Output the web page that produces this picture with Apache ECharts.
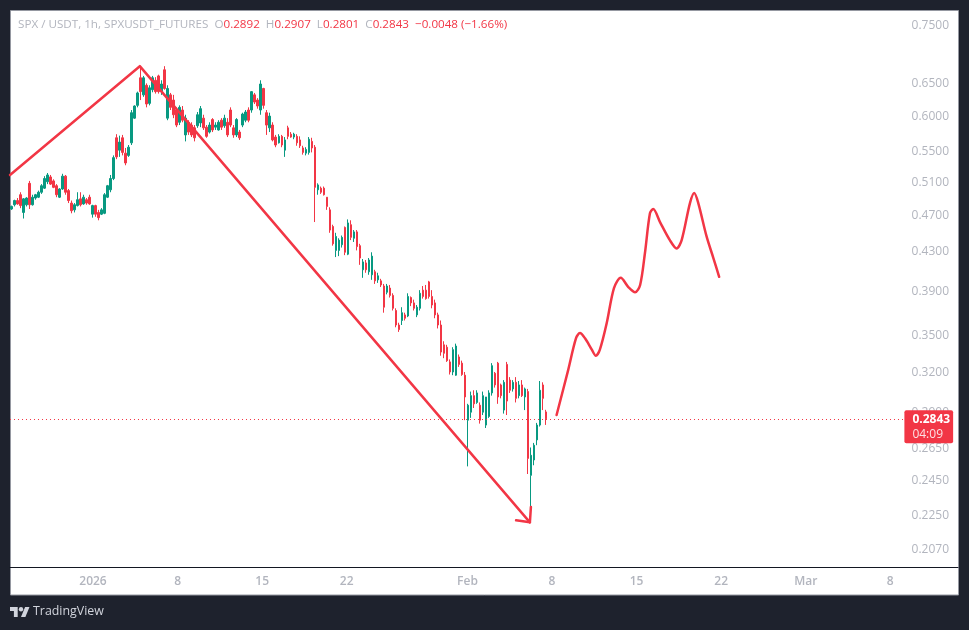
<!DOCTYPE html>
<html><head><meta charset="utf-8">
<style>html,body{margin:0;padding:0;background:#1e222d}#c{width:969px;height:630px}</style>
<script src="https://cdn.jsdelivr.net/npm/echarts@6/dist/echarts.min.js"></script>
</head><body><div id="c"></div>
<script>
// Candle rows: [open, close, low, high] (resampled, one per ~6 hours)
const candlesDec = [[.476,.479,.475,.480],[.481,.486,.479,.487],[.486,.482,.481,.489],[.493,.480,.477,.496],[.472,.488,.465,.489],[.481,.489,.479,.490],[.507,.481,.476,.510],[.481,.490,.480,.493],[.489,.493,.487,.494],[.490,.496,.489,.498],[.496,.504,.494,.506],[.501,.513,.500,.516],[.509,.5175,.506,.520],[.515,.506,.505,.5175],[.510,.502,.501,.512],[.504,.493,.490,.506],[.490,.500,.489,.501],[.500,.516,.499,.519],[.516,.496,.493,.5175],[.498,.486,.483,.500],[.483,.474,.471,.486],[.475,.481,.472,.483],[.480,.487,.479,.496],[.488,.481,.479,.496],[.482,.490,.481,.493],[.487,.483,.481,.489],[.490,.482,.481,.493]];
const candlesJan1 = [[.470,.480,.466,.481],[.480,.470,.467,.481],[.472,.466,.463,.475],[.470,.475,.469,.477],[.471,.493,.470,.495],[.490,.504,.489,.505],[.499,.513,.496,.5175],[.513,.540,.511,.543],[.567,.541,.538,.572],[.550,.561,.541,.570],[.567,.547,.543,.571],[.546,.533,.530,.553],[.543,.554,.541,.557],[.560,.603,.557,.607],[.595,.613,.594,.614],[.614,.633,.611,.635],[.657,.635,.622,.674],[.630,.657,.627,.660],[.645,.616,.611,.648],[.617,.641,.614,.645],[.638,.657,.634,.660],[.653,.635,.632,.658],[.660,.635,.632,.662],[.635,.647,.630,.653],[.670,.640,.638,.676],[.595,.640,.592,.645],[.630,.611,.607,.633],[.622,.600,.595,.630]];
const candlesJan8 = [[.607,.585,.582,.611],[.589,.611,.585,.614],[.607,.592,.589,.613],[.571,.595,.562,.600],[.589,.575,.571,.592],[.585,.571,.568,.589],[.581,.567,.562,.585],[.584,.600,.581,.604],[.588,.609,.582,.613],[.595,.581,.578,.600],[.582,.569,.567,.585],[.575,.585,.573,.589],[.593,.578,.575,.595],[.582,.585,.578,.589],[.578,.589,.577,.592],[.592,.582,.578,.595],[.584,.595,.581,.600],[.589,.571,.568,.595],[.607,.585,.582,.611],[.581,.571,.567,.585],[.571,.593,.568,.595],[.575,.567,.564,.578],[.585,.601,.582,.603],[.592,.604,.589,.607],[.607,.592,.589,.611],[.607,.635,.603,.636],[.630,.619,.616,.633],[.622,.613,.609,.625]];
const candlesJan15 = [[.607,.647,.600,.653],[.640,.614,.609,.641],[.603,.585,.571,.607],[.581,.598,.575,.603],[.585,.564,.562,.589],[.568,.557,.554,.571],[.560,.569,.559,.572],[.569,.557,.554,.571],[.550,.564,.541,.568],[.581,.569,.565,.584],[.572,.568,.567,.575],[.568,.572,.565,.574],[.569,.560,.556,.572],[.564,.556,.553,.569],[.553,.547,.544,.556],[.546,.551,.543,.554],[.547,.565,.544,.568],[.562,.553,.547,.567],[.554,.502,.461,.557],[.499,.505,.493,.507],[.501,.496,.494,.503],[.501,.493,.492,.503],[.490,.479,.475,.490],[.475,.452,.449,.478],[.456,.437,.435,.458],[.430,.445,.423,.449],[.430,.441,.424,.443],[.436,.444,.433,.446]];
const candlesJan22 = [[.455,.428,.425,.456],[.426,.460,.425,.464],[.458,.444,.441,.463],[.443,.450,.439,.452],[.450,.434,.430,.452],[.435,.422,.415,.437],[.410,.418,.402,.421],[.417,.410,.407,.420],[.408,.420,.405,.422],[.405,.424,.400,.428],[.408,.399,.396,.410],[.400,.404,.397,.407],[.399,.395,.393,.401],[.394,.374,.369,.396],[.388,.394,.386,.396],[.392,.385,.383,.395],[.385,.373,.371,.387],[.371,.358,.356,.373],[.358,.354,.352,.360],[.362,.369,.358,.374],[.367,.364,.362,.369],[.366,.384,.365,.387],[.383,.378,.375,.384],[.378,.373,.371,.381],[.367,.374,.365,.376],[.373,.387,.371,.390],[.390,.384,.382,.394],[.390,.382,.381,.395]];
const candlesJan29 = [[.398,.384,.382,.399],[.384,.376,.373,.390],[.378,.367,.364,.381],[.367,.358,.355,.369],[.358,.335,.332,.362],[.341,.334,.330,.344],[.339,.328,.327,.341],[.327,.319,.317,.329],[.319,.337,.3165,.339],[.3165,.340,.316,.342],[.331,.325,.323,.333],[.326,.317,.316,.328],[.3165,.300,.2834,.319],[.2834,.294,.253,.295],[.289,.301,.285,.304],[.301,.295,.292,.305],[.296,.303,.295,.305],[.294,.2834,.281,.296],[.289,.301,.287,.304],[.280,.300,.278,.300],[.286,.303,.285,.305],[.303,.324,.301,.326],[.318,.309,.307,.319],[.326,.300,.295,.327],[.309,.301,.299,.310],[.2905,.311,.288,.3127],[.325,.297,.287,.327],[.3127,.305,.303,.315]];
const candlesFeb5 = [[.306,.311,.304,.3127],[.311,.299,.296,.315],[.301,.309,.299,.312],[.309,.301,.300,.3127],[.300,.306,.2905,.307],[.304,.258,.2483,.306],[.2475,.260,.2205,.265],[.257,.2665,.2537,.268],[.270,.280,.2665,.2815],[.280,.305,.279,.312],[.309,.299,.2905,.311],[.2892,.2843,.2801,.2907]];

const candleStart = Date.UTC(2025, 11, 25, 6, 0);
const candleStepMinutes = 358;

// Hand-drawn annotations: [time, price]
const drawnWedge = [['2025-12-25T03:06Z',.5175],['2026-01-04T21:00Z',.676],['2026-02-06T04:00Z',.2205]];
const drawnArrow = [['2026-02-05T00:30Z',.2216],['2026-02-06T04:00Z',.2205],['2026-02-06T06:00Z',.229]];
const drawnForecast = [['2026-02-08T09:00Z',.287],['2026-02-09T08:00Z',.3205],['2026-02-09T23:30Z',.3465],['2026-02-10T07:30Z',.351],['2026-02-10T17:30Z',.3465],['2026-02-11T07:00Z',.337],['2026-02-11T15:00Z',.332],['2026-02-11T23:00Z',.337],['2026-02-12T12:30Z',.3595],['2026-02-13T03:00Z',.392],['2026-02-13T16:30Z',.402],['2026-02-14T07:30Z',.393],['2026-02-14T21:00Z',.388],['2026-02-15T07:00Z',.395],['2026-02-15T16:30Z',.427],['2026-02-16T02:30Z',.471],['2026-02-16T09:00Z',.476],['2026-02-16T22:30Z',.461],['2026-02-17T18:00Z',.441],['2026-02-18T07:30Z',.432],['2026-02-18T17:30Z',.441],['2026-02-19T10:00Z',.483],['2026-02-19T18:30Z',.495],['2026-02-20T02:30Z',.483],['2026-02-20T19:00Z',.445],['2026-02-21T08:30Z',.422],['2026-02-21T20:00Z',.403]];

const priceTicks = [.75,.65,.6,.55,.51,.47,.43,.39,.35,.32,.29,.265,.245,.225,.207];
const timeTicks = ['2026-01-01','2026-01-08','2026-01-15','2026-01-22','2026-02-01','2026-02-08','2026-02-15','2026-02-22','2026-03-01','2026-03-08'];
const timeTickLabels = ['2026','8','15','22','Feb','8','15','22','Mar','8'];

const lastPrice = .2843, countdown = '04:09';
const headerName = 'SPX / USDT, 1h, SPXUSDT_FUTURES';
const headerO = '0.2892', headerH = '0.2907', headerL = '0.2801', headerC = '0.2843', headerChange = '\u22120.0048 (\u22121.66%)';

const RED = '#f23645', GREEN = '#089981', GREY = '#b2b5be', FONT = '"Open Sans", sans-serif';
const ms = s => Date.parse(s);
const tickMs = timeTicks.map(d => ms(d + 'T00:00:00Z'));
const axisStart = ms('2025-12-25T03:06:00Z'), axisEnd = ms('2026-03-13T14:30:00Z');
const allCandles = [].concat(candlesDec, candlesJan1, candlesJan8, candlesJan15, candlesJan22, candlesJan29, candlesFeb5);
const candleData = allCandles.map((r, i) => [candleStart + i * candleStepMinutes * 60000, r[0], r[1], r[2], r[3]]);
const toXY = list => list.map(p => [ms(p[0]), p[1]]);

const chart = echarts.init(document.getElementById('c'), null, {renderer: 'canvas'});
const drawnLine = (name, data, smooth) => ({name, type: 'line', data: toXY(data), smooth, showSymbol: false, silent: true, clip: true, z: 5,
  lineStyle: {color: RED, width: 2.5, cap: 'round', join: 'round'}, animation: false});
const logoFill = {fill: '#d1d4dc'};
chart.setOption({
  animation: false,
  backgroundColor: '#1e222d',
  textStyle: {fontFamily: FONT},
  title: {
    left: 18, top: 19, padding: 0,
    text: `{g|${headerName}  O}{r|${headerO}}{g|  H}{r|${headerH}}{g|  L}{r|${headerL}}{g|  C}{r|${headerC}}{r|  ${headerChange}}`,
    textStyle: {fontWeight: 'normal', rich: {
      g: {color: GREY, fontSize: 11.65, fontWeight: 'normal', fontFamily: FONT},
      r: {color: RED, fontSize: 11.65, fontWeight: 'normal', fontFamily: FONT}
    }}
  },
  graphic: [
    {type: 'rect', z: -10, silent: true, shape: {x: 10.5, y: 10.5, width: 948, height: 584.5}, style: {fill: '#ffffff', stroke: '#9598a1', lineWidth: 1}},
    {type: 'polygon', silent: true, shape: {points: [[10,607],[17.7,607],[17.7,617],[13.9,617],[13.9,610.9],[10,610.9]]}, style: logoFill},
    {type: 'polygon', silent: true, shape: {points: [[25.4,617],[21,617],[25.1,607],[29.5,607]]}, style: logoFill},
    {type: 'circle', silent: true, shape: {cx: 21, cy: 609.2, r: 2.2}, style: logoFill},
    {type: 'text', silent: true, x: 33, y: 605, style: {text: 'TradingView', fill: '#d1d4dc', font: '12.4px ' + FONT}}
  ],
  grid: {left: 10, right: 11, top: 10, bottom: 63, show: false},
  xAxis: {
    type: 'value',
    scale: true,
    min: axisStart,
    max: axisEnd,
    splitLine: {show: false},
    axisTick: {show: false},
    axisLine: {show: true, onZero: false, lineStyle: {color: '#131722', width: 1}},
    axisLabel: {
      color: GREY, fontSize: 12, margin: 9, fontWeight: 600, hideOverlap: false,
      customValues: tickMs,
      formatter: v => timeTickLabels[tickMs.indexOf(v)]
    }
  },
  yAxis: {
    type: 'log',
    position: 'right',
    min: .1976, max: .776,
    splitLine: {show: false},
    axisTick: {show: false},
    axisLine: {show: false},
    axisLabel: {
      inside: true, margin: 9, color: GREY, fontSize: 12,
      customValues: priceTicks,
      formatter: v => `{p|${(+v).toFixed(4)}}`,
      rich: {p: {color: GREY, fontSize: 12, fontWeight: 500, fontFamily: FONT, padding: [3, 0, 0, 0]}}
    }
  },
  series: [
    {
      name: 'SPXUSDT', type: 'candlestick', data: candleData, barWidth: 2, z: 3, silent: true,
      itemStyle: {color: GREEN, color0: RED, borderColor: GREEN, borderColor0: RED, borderWidth: 1},
      markLine: {
        silent: true, symbol: 'none', animation: false,
        lineStyle: {color: RED, type: [1, 3], width: 1},
        label: {
          show: true, position: 'end', distance: 0, offset: [0, 8], backgroundColor: RED, borderRadius: 2, padding: [2, 3, 1, 8],
          formatter: `{a|${lastPrice.toFixed(4)}}\n{b|${countdown}}`,
          rich: {
            a: {color: '#fff', fontWeight: 700, fontSize: 12, lineHeight: 15, fontFamily: FONT},
            b: {color: '#fde0e3', fontSize: 12, lineHeight: 15, fontFamily: FONT}
          }
        },
        data: [[{coord: [axisStart, lastPrice]}, {coord: [ms('2026-03-09T04:00:00Z'), lastPrice]}]]
      }
    },
    drawnLine('Wedge', drawnWedge, false),
    drawnLine('Arrow', drawnArrow, false),
    drawnLine('Forecast', drawnForecast, 0.3)
  ]
});
</script></body></html>
